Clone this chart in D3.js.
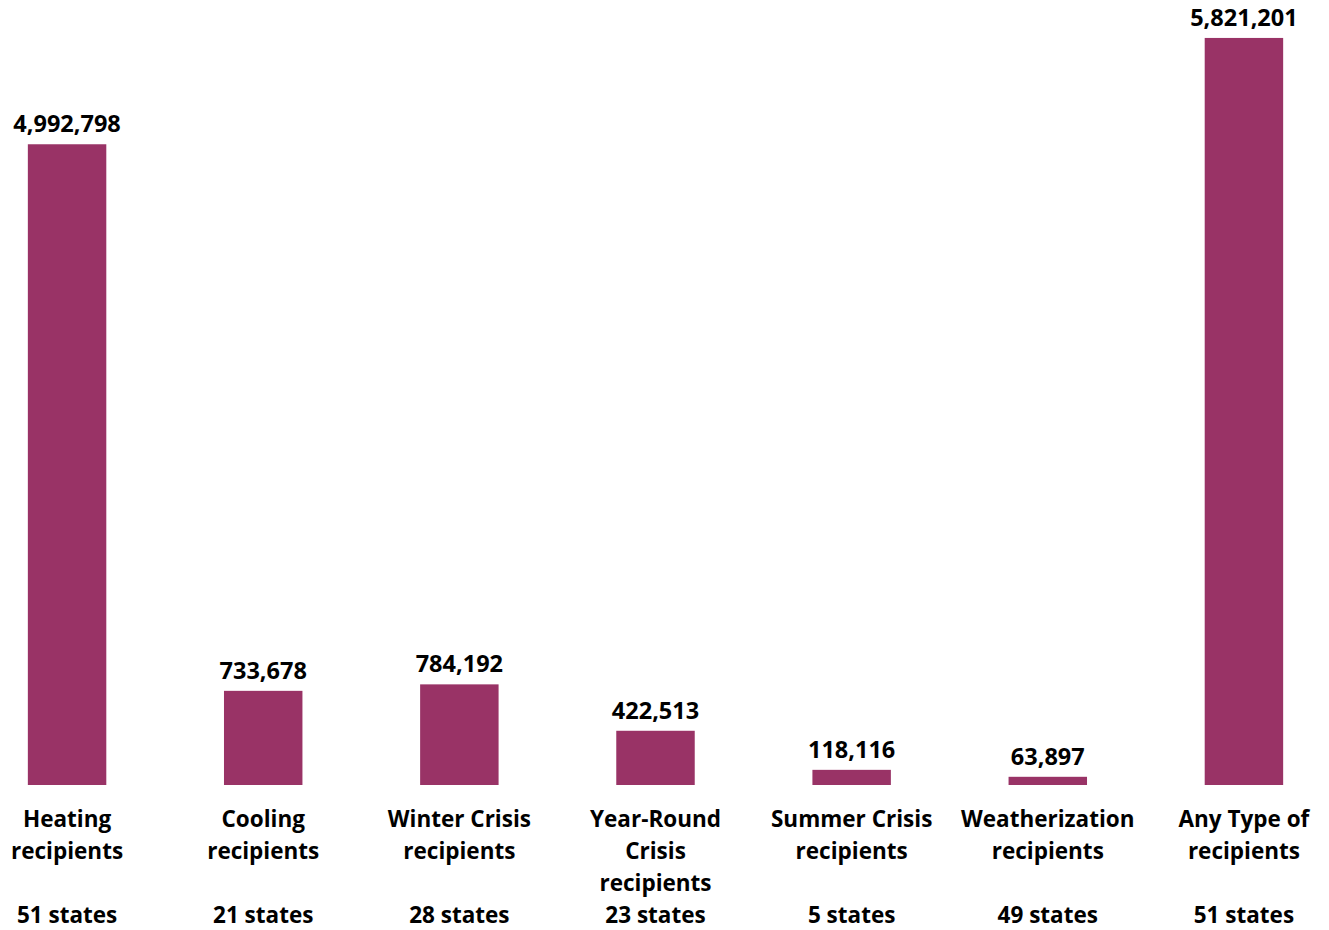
<!DOCTYPE html>
<html>
<head>
<meta charset="utf-8">
<script src="https://cdn.jsdelivr.net/npm/d3@7"></script>
<style>
  html, body { margin: 0; padding: 0; background: #fff; }
  svg text { font-family: "Open Sans", Lato, sans-serif; font-weight: bold; fill: #000; }
</style>
</head>
<body>
<div id="chart"></div>
<script>
const WIDTH = 1329;
const HEIGHT = 930;
const BAR_COLOR = "#993366";

// data
const categories = ["Heating", "Cooling", "Winter Crisis", "Year-Round Crisis", "Summer Crisis", "Weatherization", "Any Type"];
const labelLines = [
  ["Heating", "recipients"],
  ["Cooling", "recipients"],
  ["Winter Crisis", "recipients"],
  ["Year-Round", "Crisis", "recipients"],
  ["Summer Crisis", "recipients"],
  ["Weatherization", "recipients"],
  ["Any Type of", "recipients"]
];
const recipients = [4992798, 733678, 784192, 422513, 118116, 63897, 5821201];
const states = ["51 states", "21 states", "28 states", "23 states", "5 states", "49 states", "51 states"];

const BASE_Y = 785;
const LINE_H = 32;

const svg = d3.select("#chart")
  .append("svg")
  .attr("width", WIDTH)
  .attr("height", HEIGHT);

// scales
const xScale = d3.scaleBand()
  .domain(categories)
  .range([-31, 1342])
  .paddingInner(0.6)
  .paddingOuter(0.3);

const yScale = d3.scaleLinear()
  .domain([0, 6000000])
  .range([BASE_Y, 15]);

// bars
svg.selectAll("rect.bar")
  .data(recipients)
  .enter()
  .append("rect")
  .attr("class", "bar")
  .attr("x", (d, i) => xScale(categories[i]))
  .attr("y", d => yScale(d))
  .attr("width", xScale.bandwidth())
  .attr("height", d => BASE_Y - yScale(d))
  .attr("fill", BAR_COLOR);

// value labels
svg.selectAll("text.value")
  .data(recipients)
  .enter()
  .append("text")
  .attr("class", "value")
  .attr("x", (d, i) => xScale(categories[i]) + xScale.bandwidth() / 2)
  .attr("y", d => yScale(d) - 12)
  .attr("text-anchor", "middle")
  .style("font-size", "23.5px")
  .text(d => d3.format(",")(d));

// category labels
const cat = svg.selectAll("g.cat")
  .data(categories)
  .enter()
  .append("g")
  .attr("class", "cat")
  .attr("transform", d => "translate(" + (xScale(d) + xScale.bandwidth() / 2) + ",0)");

cat.each(function(d, i) {
  const g = d3.select(this);
  labelLines[i].forEach((line, j) => {
    g.append("text")
      .attr("x", 0)
      .attr("y", 827 + j * LINE_H)
      .attr("text-anchor", "middle")
      .style("font-size", "22.5px")
      .text(line);
  });
  g.append("text")
    .attr("x", 0)
    .attr("y", 923)
    .attr("text-anchor", "middle")
    .style("font-size", "22.5px")
    .text(states[i]);
});
</script>
</body>
</html>
